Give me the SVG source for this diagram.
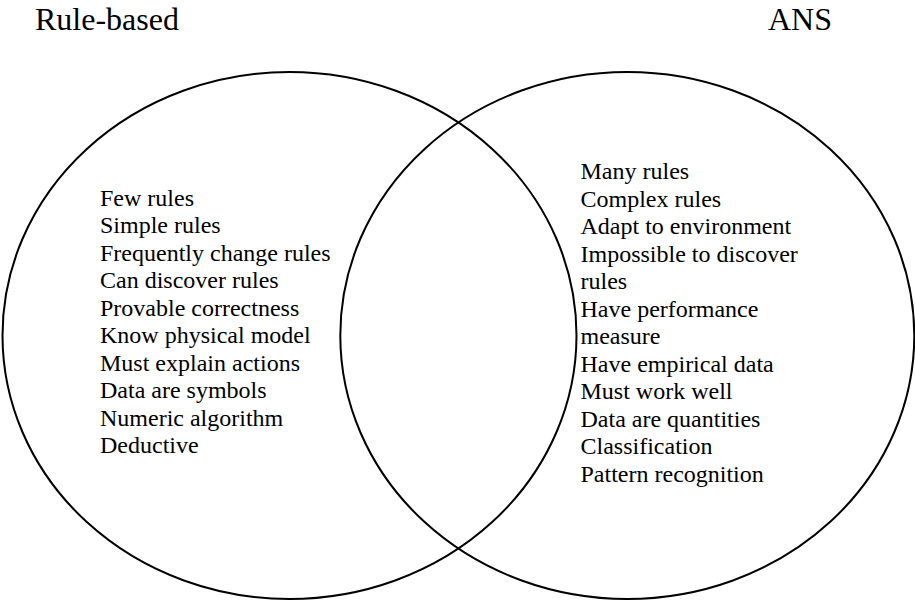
<svg xmlns="http://www.w3.org/2000/svg" width="915" height="602" viewBox="0 0 915 602">
  <style>
    .set { fill: none; stroke: #000; stroke-width: 2; }
    .title { font-family: "Liberation Serif", "Times New Roman", serif; font-size: 32px; fill: #000; }
    .item { font-family: "Liberation Serif", "Times New Roman", serif; font-size: 24px; fill: #000; }
  </style>
  <rect x="0" y="0" width="915" height="602" fill="#fff"/>

  <!-- Rule-based set -->
  <g id="rule-based">
    <ellipse class="set" cx="289.5" cy="335.5" rx="287" ry="263.5"/>
    <text class="title" x="35" y="30">Rule-based</text>
    <text class="item" x="100" y="205.5">
      <tspan x="100" dy="0">Few rules</tspan>
      <tspan x="100" dy="27.5">Simple rules</tspan>
      <tspan x="100" dy="27.5">Frequently change rules</tspan>
      <tspan x="100" dy="27.5">Can discover rules</tspan>
      <tspan x="100" dy="27.5">Provable correctness</tspan>
      <tspan x="100" dy="27.5">Know physical model</tspan>
      <tspan x="100" dy="27.5">Must explain actions</tspan>
      <tspan x="100" dy="27.5">Data are symbols</tspan>
      <tspan x="100" dy="27.5">Numeric algorithm</tspan>
      <tspan x="100" dy="27.5">Deductive</tspan>
    </text>
  </g>

  <!-- ANS set -->
  <g id="ans">
    <ellipse class="set" cx="627.3" cy="335.5" rx="287" ry="263.5"/>
    <text class="title" x="832" y="30" text-anchor="end">ANS</text>
    <text class="item" x="580.5" y="179">
      <tspan x="580.5" dy="0">Many rules</tspan>
      <tspan x="580.5" dy="27.5">Complex rules</tspan>
      <tspan x="580.5" dy="27.5">Adapt to environment</tspan>
      <tspan x="580.5" dy="27.5">Impossible to discover</tspan>
      <tspan x="580.5" dy="27.5">rules</tspan>
      <tspan x="580.5" dy="27.5">Have performance</tspan>
      <tspan x="580.5" dy="27.5">measure</tspan>
      <tspan x="580.5" dy="27.5">Have empirical data</tspan>
      <tspan x="580.5" dy="27.5">Must work well</tspan>
      <tspan x="580.5" dy="27.5">Data are quantities</tspan>
      <tspan x="580.5" dy="27.5">Classification</tspan>
      <tspan x="580.5" dy="27.5">Pattern recognition</tspan>
    </text>
  </g>
</svg>
